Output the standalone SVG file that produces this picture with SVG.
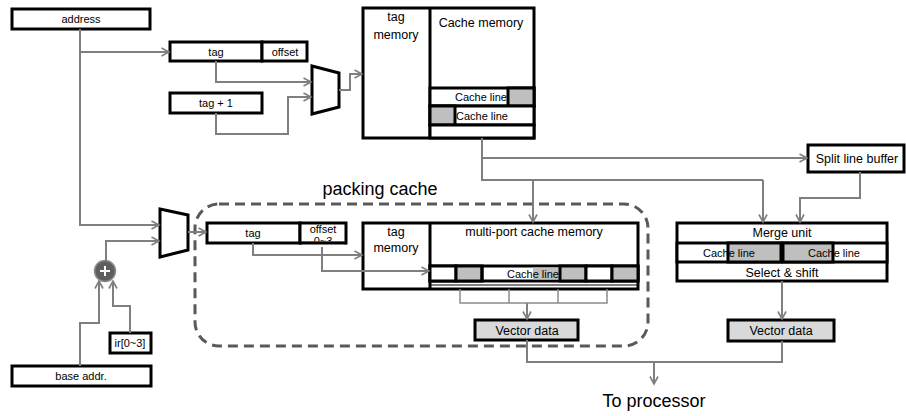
<svg xmlns="http://www.w3.org/2000/svg" width="906" height="416" viewBox="0 0 906 416">
  <defs>
    <marker id="arr" markerWidth="10" markerHeight="10" refX="8.5" refY="5" orient="auto" markerUnits="userSpaceOnUse">
      <path d="M1,1 L8.5,5 L1,9" fill="none" stroke="#7f7f7f" stroke-width="1.6"/>
    </marker>
    <style>
      .box { fill: #ffffff; stroke: #000000; stroke-width: 3; }
      .cell { fill: #bfbfbf; stroke: #000000; stroke-width: 3; }
      .vec { fill: #d9d9d9; stroke: #000000; stroke-width: 3; }
      .mux { fill: #ffffff; stroke: #000000; stroke-width: 3; stroke-linejoin: miter; }
      .wire { fill: none; stroke: #7f7f7f; stroke-width: 2; }
      .wa { fill: none; stroke: #7f7f7f; stroke-width: 2; marker-end: url(#arr); }
      .thin { fill: none; stroke: #8c8c8c; stroke-width: 1.5; }
      text { font-family: "Liberation Sans", Arial, sans-serif; fill: #000000; text-anchor: middle; }
      .s { font-size: 11px; }
      .m { font-size: 12.5px; }
      .l { font-size: 18px; }
    </style>
  </defs>

  <rect width="906" height="416" fill="#ffffff"/>

  <!-- packing cache region -->
  <g id="packing-cache">
    <rect x="195" y="204" width="453" height="142" rx="24" fill="none" stroke="#595959" stroke-width="3" stroke-dasharray="10 6"/>
    <text class="l" x="380" y="195">packing cache</text>
  </g>

  <!-- address register -->
  <g id="address">
    <rect class="box" x="12" y="9" width="138" height="20"/>
    <text class="s" x="81" y="23">address</text>
  </g>

  <g id="tag-offset">
    <rect class="box" x="170" y="42" width="92" height="19"/>
    <text class="s" x="216" y="56">tag</text>
    <rect class="box" x="262" y="42" width="45" height="19"/>
    <text class="s" x="285" y="56">offset</text>
  </g>

  <g id="tag-plus-one">
    <rect class="box" x="170" y="93" width="92" height="20"/>
    <text class="s" x="216" y="107">tag + 1</text>
  </g>

  <g id="mux-top">
    <polygon class="mux" points="312,66 339,73 339,107 312,114"/>
  </g>

  <!-- main cache -->
  <g id="cache">
    <rect class="box" x="363" y="8" width="171" height="130"/>
    <line x1="430" y1="8" x2="430" y2="138" stroke="#000" stroke-width="3"/>
    <text class="m" x="396" y="21">tag</text>
    <text class="m" x="396" y="39">memory</text>
    <text class="m" x="481" y="27">Cache memory</text>
    <rect class="box" x="430" y="88" width="104" height="18"/>
    <rect class="cell" x="508" y="88" width="26" height="18"/>
    <text class="s" x="481" y="101">Cache line</text>
    <rect class="box" x="430" y="106" width="104" height="19"/>
    <rect class="cell" x="430" y="106" width="25" height="19"/>
    <text class="s" x="482" y="120">Cache line</text>
    <rect class="box" x="430" y="125" width="104" height="13"/>
  </g>

  <g id="split-line-buffer">
    <rect class="box" x="808" y="145" width="96" height="27"/>
    <text class="m" x="857" y="163">Split line buffer</text>
  </g>

  <!-- merge path -->
  <g id="merge-unit">
    <rect class="box" x="677" y="223" width="210" height="58"/>
    <text class="m" x="782" y="237">Merge unit</text>
    <rect class="box" x="677" y="243" width="210" height="19"/>
    <rect class="cell" x="728" y="243" width="53" height="19"/>
    <rect class="cell" x="783" y="243" width="50" height="19"/>
    <text class="s" x="729" y="257">Cache line</text>
    <text class="s" x="834" y="257">Cache line</text>
    <text class="m" x="782" y="277">Select &amp; shift</text>
  </g>

  <g id="vector-data-merge">
    <rect class="vec" x="728" y="320" width="106" height="21"/>
    <text class="m" x="781" y="335">Vector data</text>
  </g>

  <!-- packing cache contents -->
  <g id="mux-packing">
    <polygon class="mux" points="160,209 188,215 188,250 160,257"/>
  </g>

  <g id="tag-offset-packing">
    <rect class="box" x="207" y="223" width="93" height="20"/>
    <text class="s" x="253" y="237">tag</text>
    <rect class="box" x="300" y="223" width="46" height="20"/>
    <text class="s" x="323" y="233">offset</text>
    <text class="s" x="323" y="245">0~3</text>
    <rect x="301.5" y="241.5" width="43" height="6" fill="#ffffff"/>
    <line x1="300" y1="243" x2="346" y2="243" stroke="#000" stroke-width="3"/>
  </g>

  <g id="multi-port-cache">
    <rect class="box" x="363" y="223" width="275" height="66"/>
    <line x1="430" y1="223" x2="430" y2="289" stroke="#000" stroke-width="3"/>
    <text class="m" x="396" y="236">tag</text>
    <text class="m" x="396" y="252">memory</text>
    <text class="m" x="534" y="236">multi-port cache memory</text>
    <rect class="box" x="430" y="266" width="208" height="15"/>
    <rect class="box" x="430" y="266" width="26" height="15"/>
    <rect class="cell" x="456" y="266" width="26" height="15"/>
    <rect x="533" y="267.5" width="26" height="12" fill="#bfbfbf"/>
    <rect class="cell" x="560" y="266" width="26" height="15"/>
    <rect class="box" x="586" y="266" width="26" height="15"/>
    <rect class="cell" x="612" y="266" width="26" height="15"/>
    <line x1="482" y1="266" x2="482" y2="281" stroke="#000" stroke-width="3"/>
    <text class="s" x="533" y="278">Cache line</text>
    <line x1="430" y1="285" x2="638" y2="285" stroke="#000" stroke-width="1"/>
  </g>

  <g id="port-select">
    <polyline class="thin" points="460,289 460,303 607,303 607,289"/>
    <line class="thin" x1="509" y1="289" x2="509" y2="303"/>
    <line class="thin" x1="558" y1="289" x2="558" y2="303"/>
  </g>

  <g id="vector-data-packing">
    <rect class="vec" x="475" y="320" width="103" height="20"/>
    <text class="m" x="527" y="335">Vector data</text>
  </g>

  <!-- base address + index -->
  <g id="adder">
    <circle cx="105" cy="271" r="10.5" fill="#5f5f5f" stroke="#8c8c8c" stroke-width="1.5"/>
    <path d="M100,271 H110 M105,266 V276" stroke="#ffffff" stroke-width="2"/>
  </g>

  <g id="ir">
    <rect class="box" x="110" y="333" width="41" height="20"/>
    <text class="s" x="130" y="347">ir[0~3]</text>
  </g>

  <g id="base-addr">
    <rect class="box" x="12" y="366" width="139" height="20"/>
    <text class="s" x="81" y="380">base addr.</text>
  </g>

  <g id="to-processor">
    <text class="l" x="654" y="407">To processor</text>
  </g>

  <!-- connectors -->
  <g id="connectors">
    <polyline class="wa" points="80,29 80,225 159,225"/>
    <polyline class="wa" points="80,52 169,52"/>
    <polyline class="wa" points="216,61 216,82 311,82"/>
    <polyline class="wa" points="216,113 216,134 288,134 288,97 311,97"/>
    <polyline class="wa" points="339,90 350,90 350,74 362,74"/>

    <polyline class="wire" points="482,138 482,180 763,180"/>
    <polyline class="wa" points="763,180 763,222"/>
    <polyline class="wa" points="482,158 807,158"/>
    <polyline class="wa" points="533,180 533,222"/>
    <polyline class="wa" points="860,172 860,198 800,198 800,222"/>

    <polyline class="wa" points="782,281 782,319"/>
    <polyline class="wire" points="527,340 527,362 782,362 782,341"/>
    <polyline class="wa" points="654,362 654,384"/>

    <polyline class="wa" points="188,232 206,232"/>
    <polyline class="wa" points="253,243 253,255 362,255"/>
    <polyline class="wa" points="322,247 322,271 429,271"/>
    <polyline class="wa" points="527,303 527,319"/>

    <polyline class="wa" points="106,261 106,241 159,241"/>
    <polyline class="wa" points="80,366 80,323 99,323 99,281"/>
    <polyline class="wa" points="130,333 130,306 113,306 113,281"/>
  </g>
</svg>
